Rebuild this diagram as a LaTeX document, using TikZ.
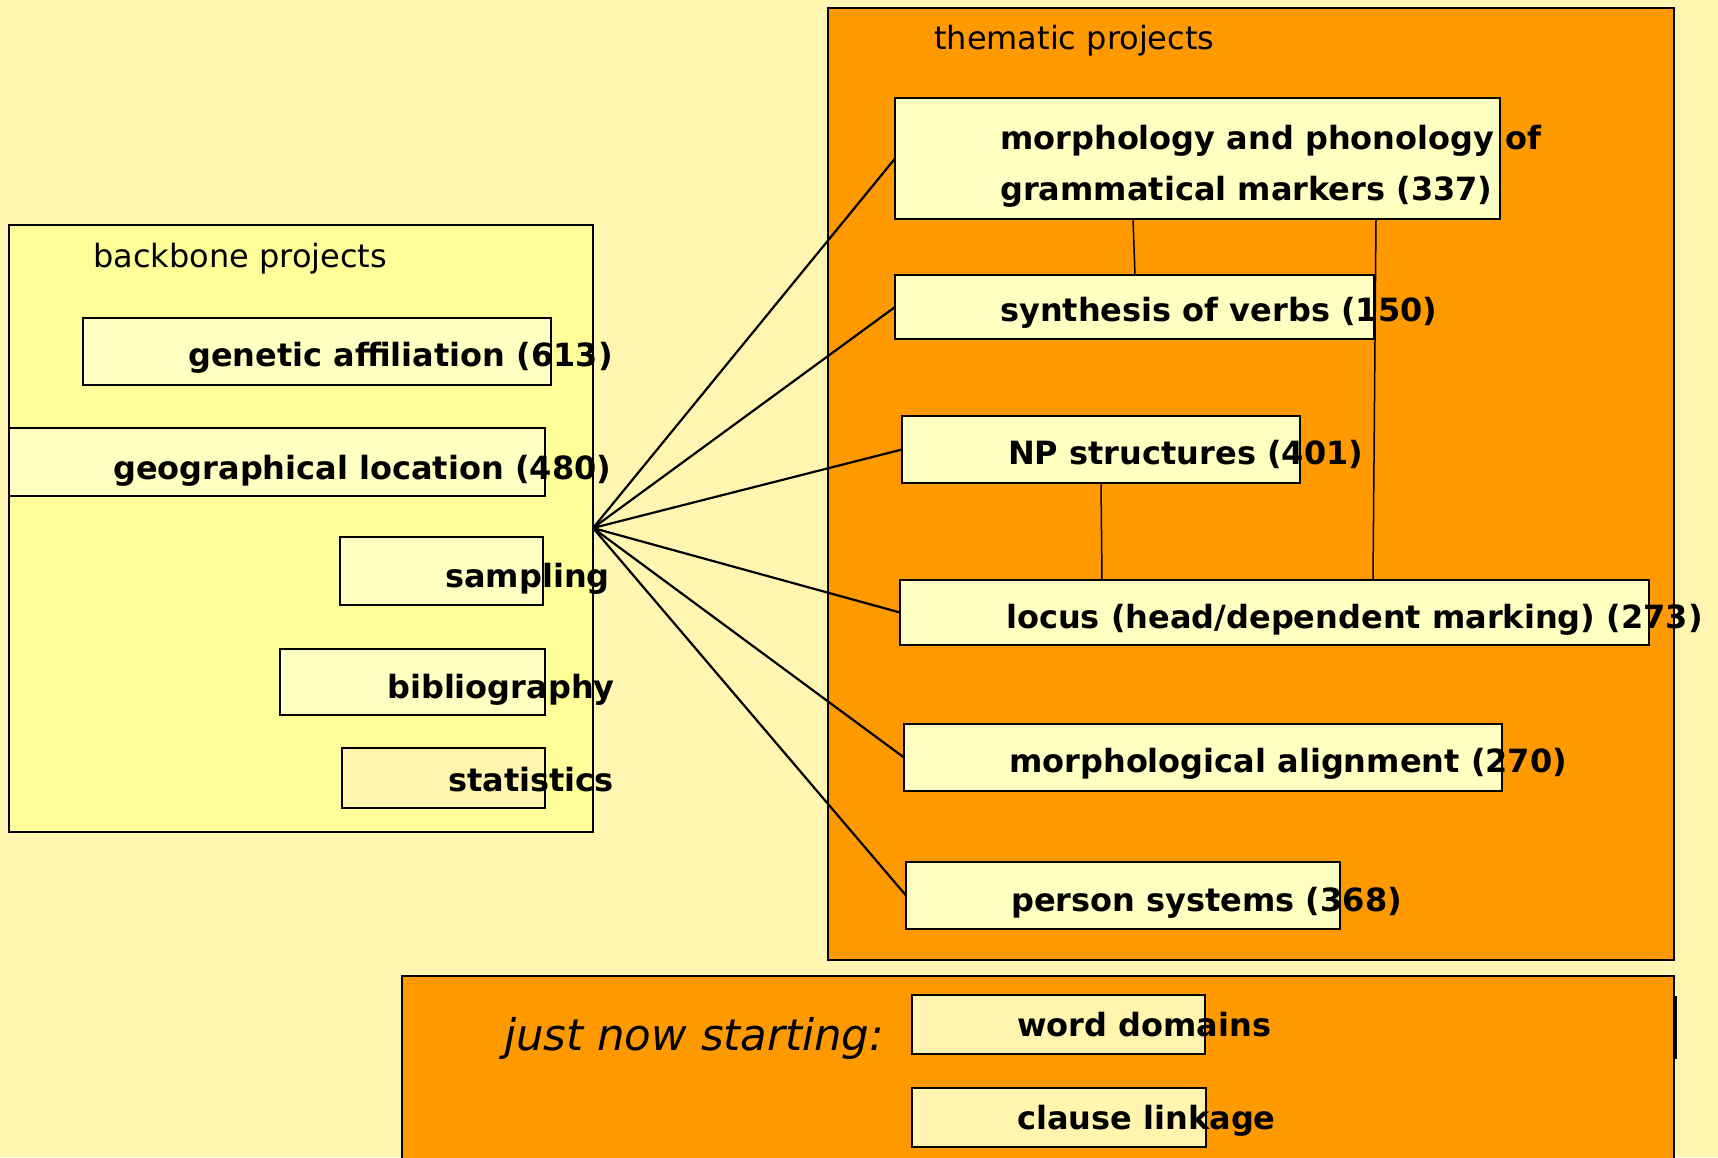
\documentclass[tikz,border=0pt]{standalone}
\usepackage{fontspec}
\setmainfont{DejaVu Sans}
\definecolor{slidebg}{RGB}{255,246,178}
\definecolor{backfill}{RGB}{255,255,153}
\definecolor{boxfill}{RGB}{255,255,194}
\definecolor{palefill}{RGB}{255,245,175}
\definecolor{themeorange}{RGB}{255,153,0}
\usetikzlibrary{positioning}

\begin{document}
\begin{tikzpicture}[x=1pt, y=-1pt,
  area/.style={draw=black, line width=2pt, anchor=north west, inner sep=0pt, outer sep=0pt},
  projbox/.style={draw=black, line width=2pt, fill=boxfill, anchor=north west, inner sep=0pt, outer sep=0pt},
  palebox/.style={projbox, fill=palefill},
  projtext/.style={anchor=base west, inner sep=0pt, font=\bfseries\fontsize{32}{38}\selectfont},
  areatitle/.style={anchor=base west, inner sep=0pt, font=\fontsize{32}{38}\selectfont},
  link/.style={draw=black, line width=2.2pt},
  thin/.style={draw=black, line width=1.5pt}
]
\useasboundingbox (0,0) rectangle (1718,1157);
\fill[slidebg] (0,0) rectangle (1718,1157);

% areas
\node[area, fill=backfill, minimum width=584pt, minimum height=607pt] (backbone) at (9,225) {};
\node[area, fill=themeorange, minimum width=846pt, minimum height=952pt] (thematic) at (828,8) {};
\draw[thin, line width=1.2pt] (1300,997) rectangle (1676,1058);
\node[area, fill=themeorange, minimum width=1272pt, minimum height=190pt] (starting) at (402,976) {};

\node[areatitle] (backbone-t) at (93,267) {backbone projects};
\node[areatitle] (thematic-t) at (934,49) {thematic projects};
\node[areatitle, font=\itshape\fontsize{43.5}{50}\selectfont] (starting-t) at (504,1050) {just now starting:};

% backbone projects
\node[projbox, minimum width=468pt, minimum height=67pt] (gen) at (83,318) {};
\node[projbox, minimum width=536pt, minimum height=68pt] (geo) at (9,428) {};
\node[projbox, minimum width=203pt, minimum height=68pt] (samp) at (340,537) {};
\node[projbox, minimum width=265pt, minimum height=66pt] (bib) at (280,649) {};
\node[palebox, minimum width=203pt, minimum height=60pt] (stat) at (342,748) {};

% thematic projects
\node[projbox, minimum width=605pt, minimum height=121pt] (morph) at (895,98) {};
\node[projbox, minimum width=479pt, minimum height=64pt] (synth) at (895,275) {};
\node[projbox, minimum width=398pt, minimum height=67pt] (np) at (902,416) {};
\node[projbox, minimum width=749pt, minimum height=65pt] (locus) at (900,580) {};
\node[projbox, minimum width=598pt, minimum height=67pt] (align) at (904,724) {};
\node[projbox, minimum width=434pt, minimum height=67pt] (person) at (906,862) {};

% just now starting
\node[palebox, minimum width=293pt, minimum height=59pt] (word) at (912,995) {};
\node[palebox, minimum width=294pt, minimum height=59pt] (clause) at (912,1088) {};

% connectors
\coordinate (hub) at (593,528);
\foreach \t in {morph, synth, np, locus, align, person}
  \draw[link] (hub) -- (\t.west);
\draw[thin] (morph.south -| 1133,0) -- (synth.north -| 1135,0);
\draw[thin] (morph.south -| 1376,0) -- (locus.north -| 1373,0);
\draw[thin] (np.south -| 1101,0) -- (locus.north -| 1102,0);

% labels
\node[projtext] (gen-t) at (188,366) {genetic affiliation (613)};
\node[projtext] (geo-t) at (113,479) {geographical location (480)};
\node[projtext] (samp-t) at (445,587) {sampling};
\node[projtext] (bib-t) at (387,698) {bibliography};
\node[projtext] (stat-t) at (448,791) {statistics};
\node[projtext] (morph-t1) at (1000,149) {morphology and phonology of};
\node[projtext] (morph-t2) at (1000,200) {grammatical markers (337)};
\node[projtext] (synth-t) at (1000,321) {synthesis of verbs (150)};
\node[projtext] (np-t) at (1008,464) {NP structures (401)};
\node[projtext] (locus-t) at (1006,628) {locus (head/dependent marking) (273)};
\node[projtext] (align-t) at (1009,772) {morphological alignment (270)};
\node[projtext] (person-t) at (1011,911) {person systems (368)};
\node[projtext] (word-t) at (1017,1036) {word domains};
\node[projtext] (clause-t) at (1017,1129) {clause linkage};

\end{tikzpicture}
\end{document}
